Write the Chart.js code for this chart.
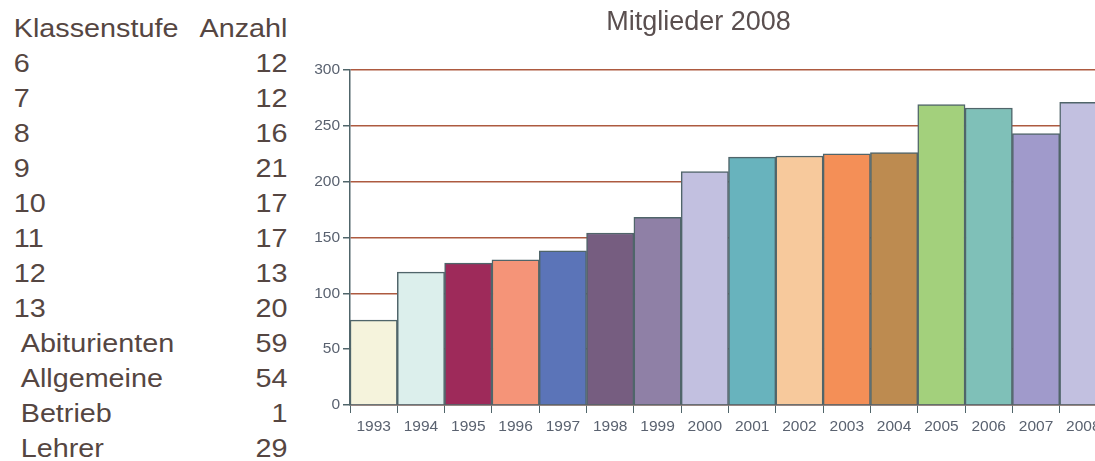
<!DOCTYPE html>
<html>
<head>
<meta charset="utf-8">
<script src="https://cdn.jsdelivr.net/npm/chart.js@4/dist/chart.umd.min.js"></script>
<style>
    html, body { margin: 0; padding: 0; background: #fff; }
    body { width: 1095px; height: 461px; overflow: hidden; position: relative; }
    #table {
        position: absolute; left: 0; top: 11px;
        transform: scaleX(1.15); transform-origin: 0 0;
        font-family: "Liberation Sans", Arial, sans-serif;
        font-size: 25px; line-height: 35px; color: #554642;
    }
    .row { position: relative; width: 250px; height: 35px; }
    .row .name { position: absolute; left: 12px; }
    .row .name.indent { left: 18px; }
    .row .num { position: absolute; right: 0; }
    #chartBox { position: absolute; left: 290px; top: 0; }
</style>
</head>
<body>
<div id="table"></div>
<div id="chartBox"><canvas id="members" width="834" height="461"></canvas></div>
<script>
// table on the left
const classes = ['6', '7', '8', '9', '10', '11', '12', '13', 'Abiturienten', 'Allgemeine', 'Betrieb', 'Lehrer'];
const counts = [12, 12, 16, 21, 17, 17, 13, 20, 59, 54, 1, 29];

// bar chart data
const years = ['1993', '1994', '1995', '1996', '1997', '1998', '1999', '2000',
               '2001', '2002', '2003', '2004', '2005', '2006', '2007', '2008'];
const members = [76, 119, 127, 130, 138, 154, 168, 209, 222, 223, 225, 226, 269, 266, 243, 271];
const yTicks = [0, 50, 100, 150, 200, 250, 300];

const barColors = ['#f5f3dc', '#dcefec', '#9e2a5a', '#f59478', '#5b74b8', '#765d80', '#8f80a6', '#c2c0e0',
                   '#68b3bd', '#f7c99c', '#f48f57', '#bd8b50', '#a3d07c', '#7fc0b8', '#a09acb', '#c2c0e0'];

// build the table
const table = document.getElementById('table');
const addRow = (name, num, indent) => {
    const row = document.createElement('div');
    row.className = 'row';
    row.innerHTML = `<span class="name${indent ? ' indent' : ''}">${name}</span><span class="num">${num}</span>`;
    table.appendChild(row);
};
addRow('Klassenstufe', 'Anzahl', false);
classes.forEach((c, i) => addRow(c, counts[i], isNaN(Number(c))));

const font = '"Liberation Sans", Arial, sans-serif';

new Chart(document.getElementById('members'), {
    type: 'bar',
    data: {
        labels: years,
        datasets: [{
            data: members,
            backgroundColor: barColors,
            borderColor: '#50656a',
            borderWidth: 1.5,
            barPercentage: 1,
            categoryPercentage: 1
        }]
    },
    options: {
        responsive: false,
        animation: false,
        layout: { padding: { left: 0, right: 17, top: 0, bottom: 0 } },
        plugins: {
            legend: { display: false },
            tooltip: { enabled: false },
            title: {
                display: true,
                text: 'Mitglieder 2008',
                color: '#5a4f4f',
                font: { family: font, size: 27, weight: 'normal' },
                padding: { top: 6, bottom: 31.6 }
            }
        },
        scales: {
            x: {
                grid: { drawOnChartArea: false, drawTicks: true, tickLength: 8, tickColor: '#50656a' },
                border: { color: '#5a6468', width: 1.5 },
                ticks: { color: '#5a6270', font: { family: font, size: 15.5 }, padding: 4, maxRotation: 0, autoSkip: false },
                afterFit: (scale) => { scale.height = 56; }
            },
            y: {
                min: 0,
                max: 300,
                afterBuildTicks: (scale) => { scale.ticks = yTicks.map(v => ({ value: v })); },
                grid: { color: '#ad5a40', lineWidth: 1.5, tickLength: 7, tickColor: '#50656a' },
                border: { color: '#50656a', width: 1.5 },
                ticks: { color: '#5a6270', font: { family: font, size: 15.5 }, padding: 3 },
                afterFit: (scale) => { scale.width = 60; }
            }
        }
    }
});
</script>
</body>
</html>
